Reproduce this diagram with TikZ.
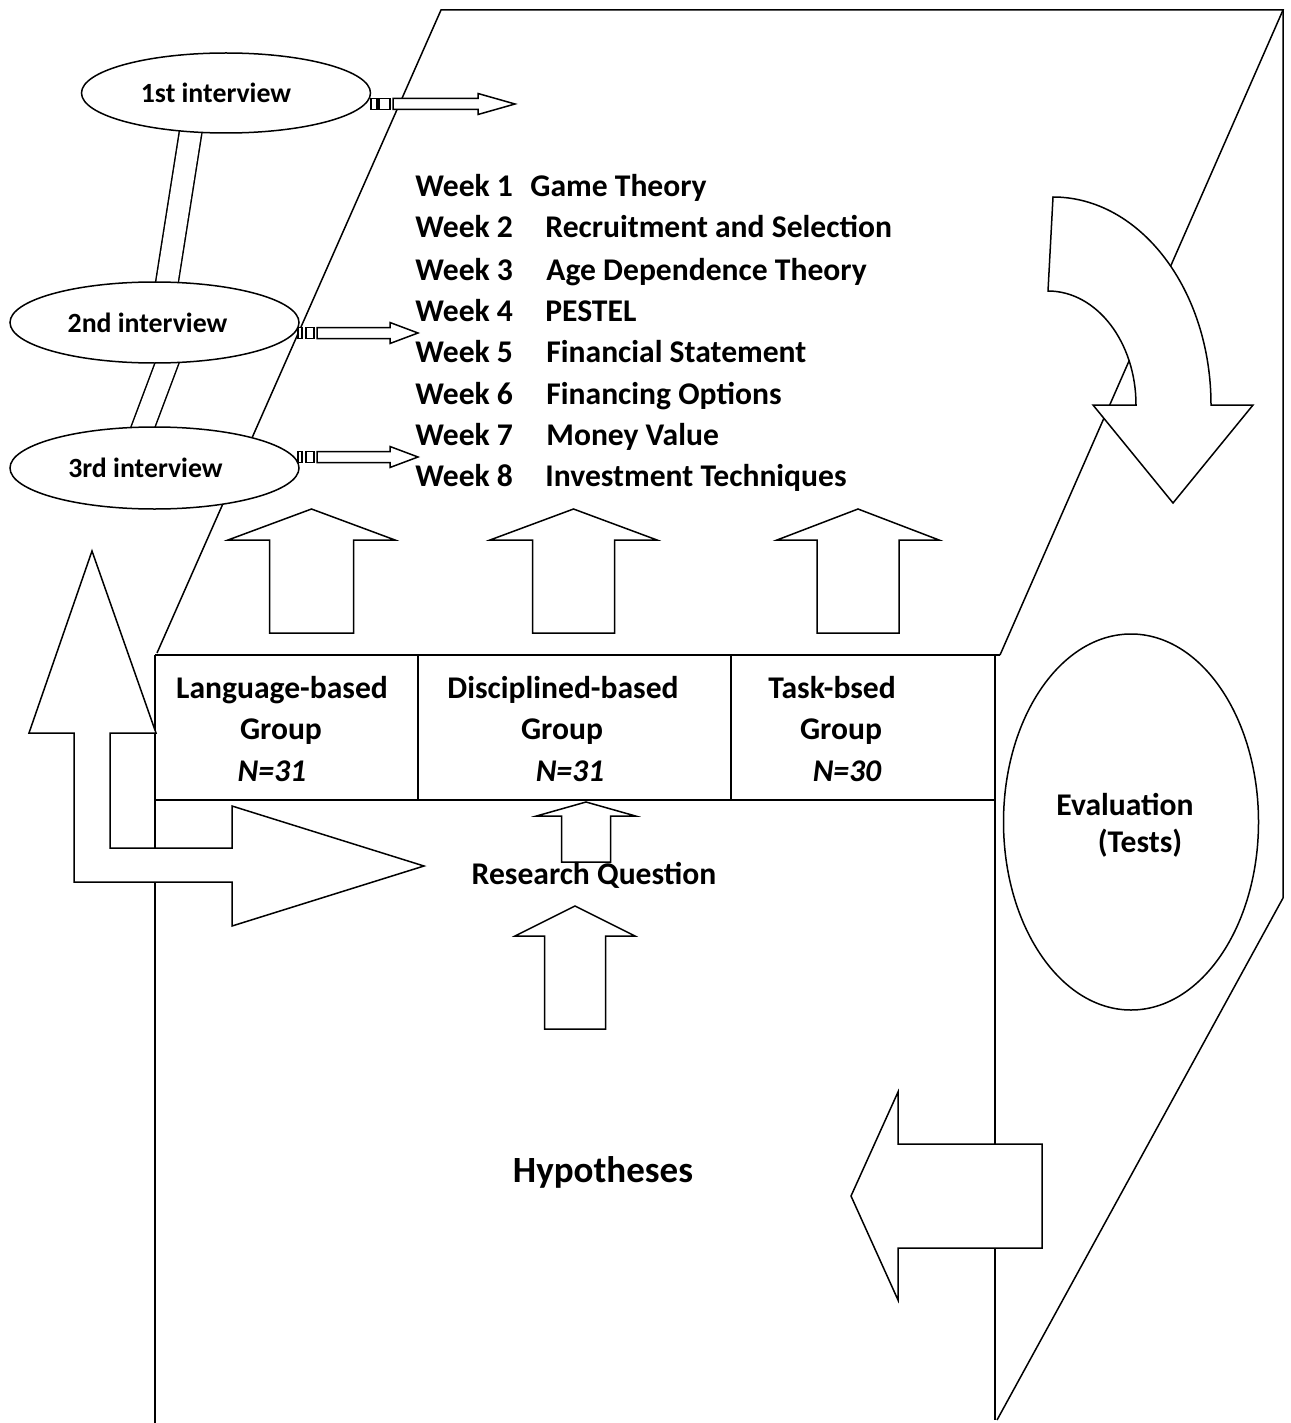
\documentclass[tikz,border=0pt]{standalone}
\usepackage{fontspec}
\setmainfont{Carlito}
\usetikzlibrary{shapes.geometric}

% up-pointing block arrow: cx, apex y, head-base y, head half width, shaft half width, bottom y
\newcommand{\blockup}[6]{%
  \draw[blk] ({#1},{#2}) -- ({#1+#4},{#3}) -- ({#1+#5},{#3}) -- ({#1+#5},{#6})
    -- ({#1-#5},{#6}) -- ({#1-#5},{#3}) -- ({#1-#4},{#3}) -- cycle;}
% striped right arrow: y, rect1 x0, x1, rect2 x0, x1, body start, body end, tip
\newcommand{\stripearrow}[8]{%
  \draw[blk] ({#2},{#1-5.5}) rectangle ({#3},{#1+5.5});
  \draw[blk] ({#4},{#1-5.5}) rectangle ({#5},{#1+5.5});
  \draw[blk] ({#6},{#1-5.5}) -- ({#7},{#1-5.5}) -- ({#7},{#1-10.5}) -- ({#8},{#1})
    -- ({#7},{#1+10.5}) -- ({#7},{#1+5.5}) -- ({#6},{#1+5.5}) -- cycle;}

\begin{document}
\begin{tikzpicture}[x=0.5pt,y=-0.5pt,
  ln/.style={line width=0.75pt, line join=miter},
  blk/.style={draw, fill=white, line width=0.75pt, line join=miter},
  ell/.style={ellipse, draw, fill=white, line width=0.75pt, inner sep=0pt},
  pipe/.style={draw, line width=0.75pt, double=white, double distance=10.5pt},
  wk/.style={font=\fontsize{15.8}{18}\selectfont\bfseries, inner sep=0pt, anchor=base west},
  lbl/.style={font=\fontsize{15.8}{18}\selectfont\bfseries, inner sep=0pt, anchor=base},
  nlbl/.style={font=\fontsize{15.8}{18}\selectfont\bfseries\itshape, inner sep=0pt, anchor=base},
  iv/.style={font=\fontsize{13.9}{16}\selectfont\bfseries},
  big/.style={font=\fontsize{18.5}{22}\selectfont\bfseries, inner sep=0pt, anchor=base}]

\useasboundingbox (0,0) rectangle (1290,1423);
\fill[white] (0,0) rectangle (1290,1423);

% ---- box frame ----
\draw[ln] (157,653) -- (441,10) -- (1283,10) -- (1000,655);
\draw[ln] (1283,10) -- (1283,898) -- (997,1420);
\draw[ln] (155,655) -- (155,1423);
\draw[ln] (995,655) -- (995,1420);
% ---- table ----
\draw[ln] (155,655) -- (1000,655);
\draw[ln] (155,800) -- (995,800);
\draw[ln] (418,655) -- (418,800);
\draw[ln] (731,655) -- (731,800);

% ---- pipes between interviews ----
\coordinate (pa) at (196.8,93);
\coordinate (pb) at (160.7,322);
\coordinate (pc) at (182.4,322);
\coordinate (pd) at (127.6,468);
\draw[pipe] (pa) -- (pb);
\draw[pipe] (pc) -- (pd);

% ---- interview ellipses ----
\node[ell, iv, minimum width=144.5pt, minimum height=40pt] (i1) at (226,93) {1st interview\kern10pt};
\node[ell, iv, minimum width=144.5pt, minimum height=40.5pt] (i2) at (154.5,322.5) {2nd interview\kern7pt};
\node[ell, iv, minimum width=144.5pt, minimum height=41pt] (i3) at (154.5,468) {3rd interview\kern9pt};

% ---- evaluation ellipse ----
\node[ell, minimum width=127.5pt, minimum height=188pt] (eval) at (1131,822) {};

% ---- striped arrows ----
\stripearrow{104}{371}{377}{379}{390}{393}{478}{515}
\stripearrow{333}{298}{302}{306}{314}{317}{390}{418}
\stripearrow{457}{298}{302}{306}{314}{317}{390}{418}

% ---- up block arrows ----
\blockup{311.5}{509}{540}{83.5}{42}{633}
\blockup{573.5}{509}{540}{83.5}{41}{633}
\blockup{858}{509}{540}{81}{41}{633}
\blockup{586}{802}{816}{49.5}{24.5}{862}
\blockup{575}{906}{936}{60}{30.5}{1029}

% ---- curved arrow (right) ----
\draw[blk] (1053,197) .. controls (1140.3,197) and (1211,290.1) .. (1211,405)
  -- (1253,405) -- (1173,503) -- (1093,405) -- (1136,405)
  .. controls (1136,342) and (1096.6,291) .. (1048,291) -- cycle;

% ---- left-pointing arrow ----
\draw[blk] (1042,1144) -- (898,1144) -- (898,1092) -- (851,1196) -- (898,1300)
  -- (898,1248) -- (1042,1248) -- cycle;

% ---- bent arrow (left) ----
\draw[blk] (92,551) -- (156,733) -- (110,733) -- (110,848) -- (232,848) -- (232,806)
  -- (424,866) -- (232,926) -- (232,882) -- (74,882) -- (74,733) -- (29,733) -- cycle;

% ---- week list ----
\node[wk] (w1) at (415,197) {Week 1};
\node[wk] (t1) at (530,197) {Game Theory};
\node[wk] (w2) at (415,238) {Week 2};
\node[wk] (t2) at (545,238) {Recruitment and Selection};
\node[wk] (w3) at (415,280) {Week 3};
\node[wk] (t3) at (546,280) {Age Dependence Theory};
\node[wk] (w4) at (415,321) {Week 4};
\node[wk] (t4) at (545,321) {PESTEL};
\node[wk] (w5) at (415,362) {Week 5};
\node[wk] (t5) at (546,362) {Financial Statement};
\node[wk] (w6) at (415,404) {Week 6};
\node[wk] (t6) at (546,404) {Financing Options};
\node[wk] (w7) at (415,445) {Week 7};
\node[wk] (t7) at (546,445) {Money Value};
\node[wk] (w8) at (415,486) {Week 8};
\node[wk] (t8) at (545,486) {Investment Techniques};

% ---- group labels ----
\node[lbl] (g1a) at (282,698) {Language-based};
\node[lbl] (g1b) at (281,739) {Group};
\node[nlbl] (g1c) at (272,781) {N=31};
\node[lbl] (g2a) at (563,698) {Disciplined-based};
\node[lbl] (g2b) at (562,739) {Group};
\node[nlbl] (g2c) at (570,781) {N=31};
\node[lbl] (g3a) at (832,698) {Task-bsed};
\node[lbl] (g3b) at (841,739) {Group};
\node[nlbl] (g3c) at (847,781) {N=30};

% ---- other labels ----
\node[lbl] (rq) at (594,884) {Research Question};
\node[big] (hyp) at (603,1182) {Hypotheses};
\node[lbl] (ev1) at (1125,815) {Evaluation};
\node[lbl] (ev2) at (1140,852) {(Tests)};
\end{tikzpicture}
\end{document}
